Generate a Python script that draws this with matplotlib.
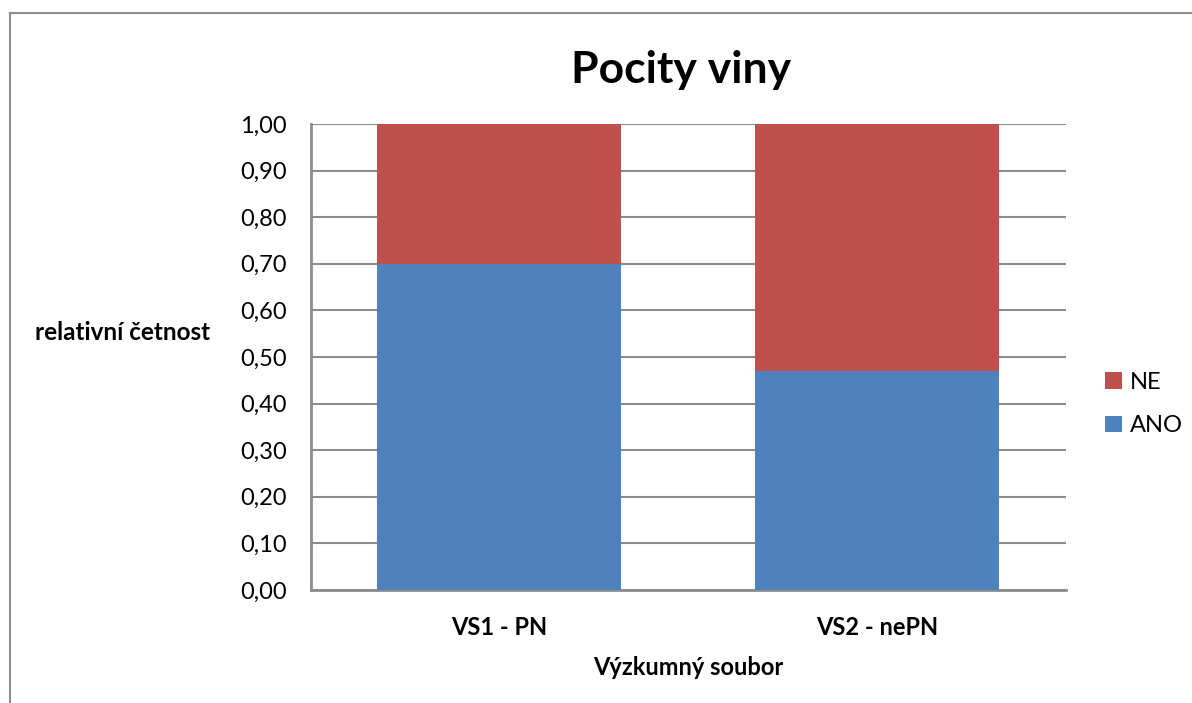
import matplotlib.pyplot as plt
from matplotlib.lines import Line2D
from matplotlib.ticker import FuncFormatter, MultipleLocator

# relative frequencies per sample
soubory = ['VS1 - PN', 'VS2 - nePN']
ano = [0.70, 0.47]
ne = [0.30, 0.53]

barva_ano = '#4F81BD'
barva_ne = '#C0504D'
mrizka = '#8C8C8C'

plt.rcParams['font.family'] = ['Lato', 'DejaVu Sans']

fig = plt.figure(figsize=(11.92, 7.03), dpi=100)
W, H = 1192, 703
ax = fig.add_axes([310.5 / W, 1 - 590 / H, 755 / W, 466 / H])

x = range(len(soubory))
ax.bar(x, ano, width=0.646, color=barva_ano, label='ANO', zorder=3)
ax.bar(x, ne, width=0.646, bottom=ano, color=barva_ne, label='NE', zorder=3)

ax.set_xlim(-0.5, 1.5)
ax.set_ylim(0, 1.0)
ax.yaxis.set_major_locator(MultipleLocator(0.1))
ax.yaxis.set_major_formatter(FuncFormatter(lambda v, _: f'{v:.2f}'.replace('.', ',')))
ax.yaxis.grid(True, color=mrizka, linewidth=1.5, zorder=0)
ax.set_axisbelow(True)

ax.set_xticks(list(x))
ax.set_xticklabels(soubory, fontsize=17, fontweight='bold')
ax.tick_params(axis='both', length=0, labelsize=17)
ax.tick_params(axis='x', pad=19)
ax.tick_params(axis='y', pad=17)

for s in ['top', 'right']:
    ax.spines[s].set_visible(False)
for s in ['left', 'bottom']:
    ax.spines[s].set_color(mrizka)
    ax.spines[s].set_linewidth(2)

ax.set_xlabel('Výzkumný soubor', fontsize=17, fontweight='bold', labelpad=12)
fig.text(35 / W, 1 - 333 / H, 'relativní četnost', fontsize=17.5, fontweight='bold',
         ha='left', va='center')

fig.text(681 / W, 1 - 70 / H, 'Pocity viny', fontsize=32, fontweight='bold',
         ha='center', va='center')

handles, labels = ax.get_legend_handles_labels()
leg = fig.legend(handles[::-1], labels[::-1], loc='center left',
                 bbox_to_anchor=(1084 / W, 1 - 404 / H), frameon=False,
                 fontsize=17, handlelength=0.7, handleheight=0.7,
                 handletextpad=0.35, labelspacing=0.95)

# outer chart border
fig.add_artist(Line2D([9.5 / W, 1], [1 - 12.5 / H] * 2, color=mrizka, linewidth=1.5,
                      transform=fig.transFigure))
fig.add_artist(Line2D([9.5 / W] * 2, [0, 1 - 12.5 / H], color=mrizka, linewidth=1.5,
                      transform=fig.transFigure))

fig.savefig('out.png', dpi=100)
